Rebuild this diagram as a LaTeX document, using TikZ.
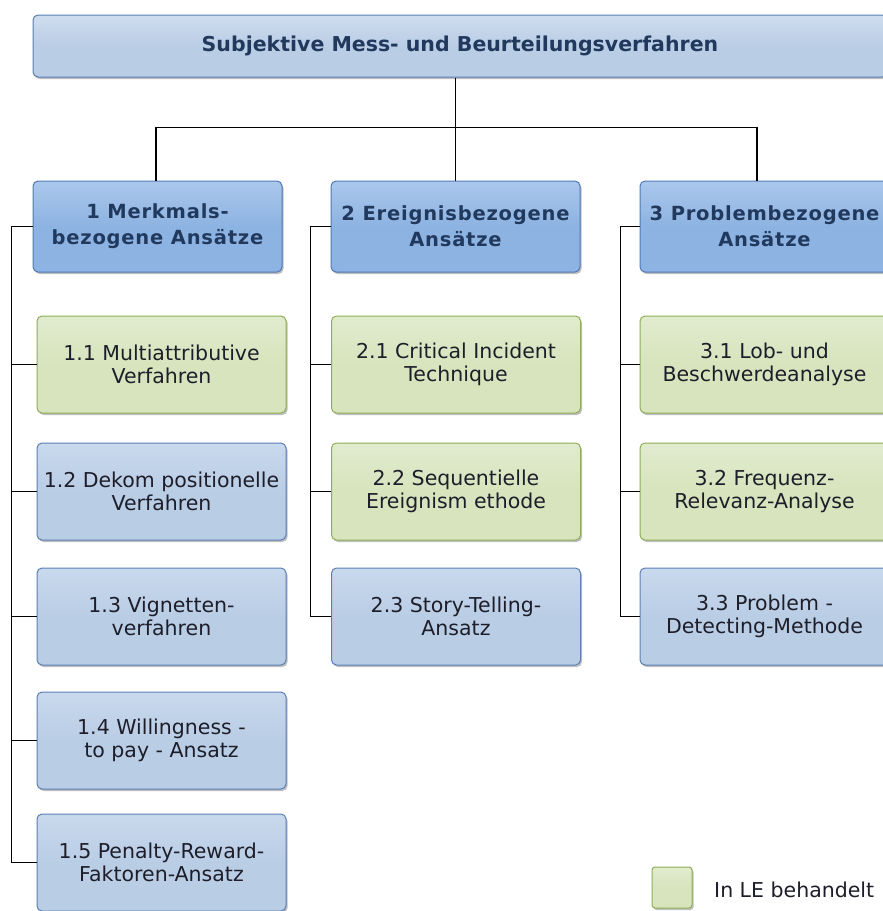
\documentclass[tikz,border=0pt]{standalone}
\usepackage{fontspec}
\setmainfont{DejaVu Sans}
\usetikzlibrary{shadows}

\definecolor{titletop}{HTML}{D0DDEF}
\definecolor{titlefill}{HTML}{B9CDE5}
\definecolor{titleline}{HTML}{5A7DB2}
\definecolor{headtop}{HTML}{ABC7EC}
\definecolor{headfill}{HTML}{8DB3E2}
\definecolor{headline}{HTML}{4F79B5}
\definecolor{bluetop}{HTML}{C9D9ED}
\definecolor{bluefill}{HTML}{B9CDE5}
\definecolor{blueline}{HTML}{5B7FB4}
\definecolor{greentop}{HTML}{E1EBCF}
\definecolor{greenfill}{HTML}{D7E4BD}
\definecolor{greenline}{HTML}{8EAE55}
\definecolor{navytext}{HTML}{22395E}
\definecolor{bodytext}{HTML}{1E1E2A}

\tikzset{
  basebox/.style={rounded corners=5pt, line width=1pt, inner sep=0pt, align=center,
    drop shadow={shadow xshift=1.5pt, shadow yshift=-2pt, opacity=0.25, fill=black}},
  titlebox/.style={basebox, draw=titleline, top color=titletop, bottom color=titlefill,
    middle color=titlefill, minimum width=854pt, minimum height=62pt,
    text=navytext, font=\fontsize{20.5}{24}\selectfont\bfseries},
  headbox/.style={basebox, draw=headline, top color=headtop, bottom color=headfill,
    middle color=headfill, minimum width=249pt, minimum height=91pt,
    text=navytext, font=\fontsize{19.5}{26}\selectfont\bfseries\addfontfeatures{LetterSpace=4}},
  bluebox/.style={basebox, draw=blueline, top color=bluetop, bottom color=bluefill,
    middle color=bluefill, minimum width=249pt, minimum height=97pt,
    text=bodytext, font=\fontsize{20.5}{22.7}\selectfont},
  greenbox/.style={basebox, draw=greenline, top color=greentop, bottom color=greenfill,
    middle color=greenfill, minimum width=249pt, minimum height=97pt,
    text=bodytext, font=\fontsize{20.5}{22.7}\selectfont},
  conn/.style={draw=black, line width=1.5pt},
}

\begin{document}
\begin{tikzpicture}[x=1pt, y=-1pt]
\useasboundingbox (0,0) rectangle (883,911);
\fill[white] (0,0) rectangle (883,911);
\clip (0,0) rectangle (883,911);

% root
\node[titlebox] (top) at (460,46) {Subjektive Mess- und Beurteilungsverfahren};

% three groups
\node[headbox] (h1) at (157.5,226.5) {1 Merkmals-\\bezogene Ansätze};
\node[headbox] (h2) at (455.5,226.5) {2 Ereignisbezogene\\Ansätze};
\node[headbox] (h3) at (764.5,226.5) {3 Problembezogene\\Ansätze};

% group 1
\node[greenbox] (c11) at (161.5,364.5) {1.1 Multiattributive\\Verfahren};
\node[bluebox]  (c12) at (161.5,491.5) {1.2 Dekom positionelle\\Verfahren};
\node[bluebox]  (c13) at (161.5,616.5) {1.3 Vignetten-\\verfahren};
\node[bluebox]  (c14) at (161.5,740.5) {1.4 Willingness -\\to pay - Ansatz};
\node[bluebox]  (c15) at (161.5,862.5) {1.5 Penalty-Reward-\\Faktoren-Ansatz};

% group 2
\node[greenbox] (c21) at (456,364.5) {2.1 Critical Incident\\Technique};
\node[greenbox] (c22) at (456,491.5) {2.2 Sequentielle\\Ereignism ethode};
\node[bluebox]  (c23) at (456,616.5) {2.3 Story-Telling-\\Ansatz};

% group 3
\node[greenbox] (c31) at (764.5,364.5) {3.1 Lob- und\\Beschwerdeanalyse};
\node[greenbox] (c32) at (764.5,491.5) {3.2 Frequenz-\\Relevanz-Analyse};
\node[bluebox]  (c33) at (764.5,616.5) {3.3 Problem -\\Detecting-Methode};

% tree connectors
\draw[conn] (top.south -| h2.north) -- (h2.north);
\draw[conn] ([xshift=-1.5pt]h1.north) -- ++(0,-53) -| ([xshift=-7.5pt]h3.north);

\coordinate (v1) at ([xshift=-21pt]h1.west);
\coordinate (v2) at ([xshift=-20pt]h2.west);
\coordinate (v3) at ([xshift=-19pt]h3.west);

\draw[conn] (h1.west) -- (v1) |- (c15.west);
\foreach \n in {c11,c12,c13,c14} \draw[conn] (\n.west) -- (\n.west -| v1);

\draw[conn] (h2.west) -- (v2) |- (c23.west);
\foreach \n in {c21,c22} \draw[conn] (\n.west) -- (\n.west -| v2);

\draw[conn] (h3.west) -- (v3) |- (c33.west);
\foreach \n in {c31,c32} \draw[conn] (\n.west) -- (\n.west -| v3);

% legend
\node[greenbox, rounded corners=3pt, minimum width=40pt, minimum height=41pt] (leg) at (672,887.5) {};
\node[anchor=west, inner sep=0pt, text=bodytext, font=\fontsize{20.5}{24}\selectfont] (legtxt) at (714,890) {In LE behandelt};
\end{tikzpicture}
\end{document}
